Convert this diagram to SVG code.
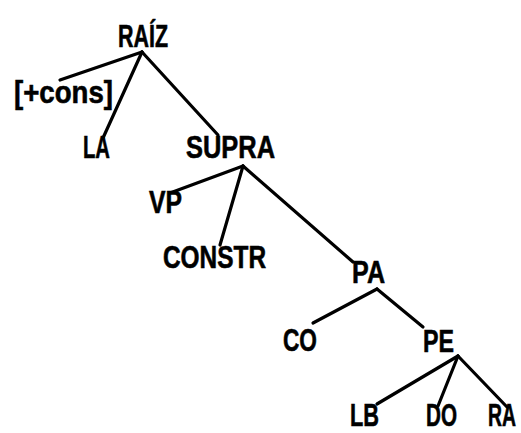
<svg xmlns="http://www.w3.org/2000/svg" width="521" height="433" viewBox="0 0 521 433">
  <style>
    .lbl { font-family: "Liberation Sans", Arial, sans-serif; font-weight: bold; font-size: 32px; fill: #000; stroke: #000; stroke-width: 0.6; }
    .edge { stroke: #000; stroke-width: 3.2; stroke-linecap: round; fill: none; }
  </style>
  <rect width="521" height="433" fill="#fff"/>
  <g id="connectors">
    <line class="edge" x1="142" y1="52" x2="60" y2="80"/>
    <line class="edge" x1="142" y1="52" x2="103" y2="138"/>
    <line class="edge" x1="142" y1="52" x2="218" y2="135"/>
    <line class="edge" x1="243" y1="166" x2="170" y2="193"/>
    <line class="edge" x1="243" y1="166" x2="220" y2="245"/>
    <line class="edge" x1="243" y1="166" x2="353" y2="262"/>
    <line class="edge" x1="377" y1="289" x2="313" y2="323"/>
    <line class="edge" x1="377" y1="289" x2="423" y2="327"/>
    <line class="edge" x1="458" y1="356" x2="377" y2="404"/>
    <line class="edge" x1="458" y1="356" x2="438" y2="406"/>
    <line class="edge" x1="458" y1="356" x2="507" y2="407"/>
  </g>
  <g id="raiz"><text class="lbl" x="118" y="47" textLength="50" lengthAdjust="spacingAndGlyphs">RAÍZ</text></g>
  <g id="feature"><text class="lbl" x="14" y="103" textLength="99" lengthAdjust="spacingAndGlyphs">[+cons]</text></g>
  <g id="la"><text class="lbl" x="83" y="158" textLength="27" lengthAdjust="spacingAndGlyphs">LA</text></g>
  <g id="supra"><text class="lbl" x="186" y="158" textLength="89" lengthAdjust="spacingAndGlyphs">SUPRA</text></g>
  <g id="vp"><text class="lbl" x="149" y="213" textLength="33" lengthAdjust="spacingAndGlyphs">VP</text></g>
  <g id="constr"><text class="lbl" x="163" y="268" textLength="103" lengthAdjust="spacingAndGlyphs">CONSTR</text></g>
  <g id="pa"><text class="lbl" x="352" y="283" textLength="33" lengthAdjust="spacingAndGlyphs">PA</text></g>
  <g id="co"><text class="lbl" x="283" y="351" textLength="34" lengthAdjust="spacingAndGlyphs">CO</text></g>
  <g id="pe"><text class="lbl" x="423" y="352" textLength="31" lengthAdjust="spacingAndGlyphs">PE</text></g>
  <g id="lb"><text class="lbl" x="350" y="426" textLength="29" lengthAdjust="spacingAndGlyphs">LB</text></g>
  <g id="do"><text class="lbl" x="426" y="426" textLength="31" lengthAdjust="spacingAndGlyphs">DO</text></g>
  <g id="ra"><text class="lbl" x="516" y="426" text-anchor="end" textLength="28" lengthAdjust="spacingAndGlyphs">RA</text></g>
</svg>
